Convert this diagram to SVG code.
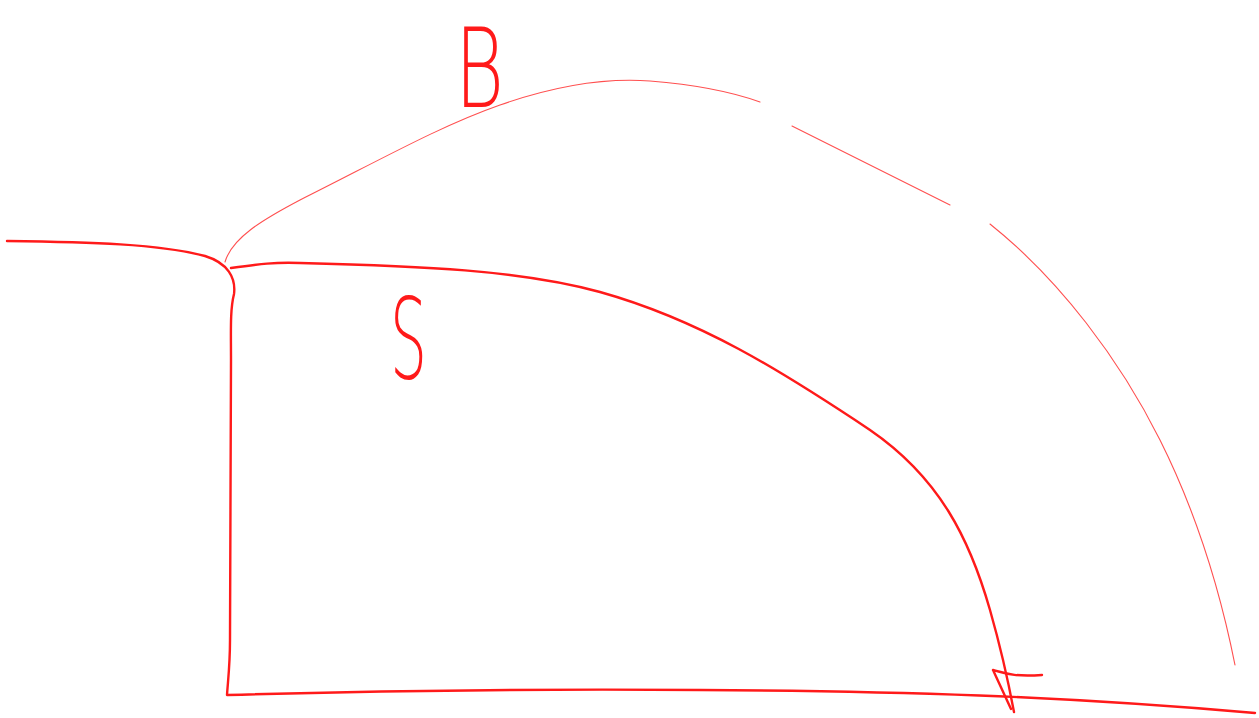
<svg xmlns="http://www.w3.org/2000/svg" width="1259" height="718" viewBox="0 0 1259 718">
<style>
.thick{fill:none;stroke:#ff1a1a;stroke-width:2.4;stroke-linecap:round;stroke-linejoin:round}
.thin{fill:none;stroke:#ff3030;stroke-width:1.1;stroke-linecap:round;opacity:0.85}
.lbl{fill:#ff1a1a;font-family:"DejaVu Sans",sans-serif;font-weight:300}
</style>
<rect width="1259" height="718" fill="#ffffff"/>
<g id="axes">
<path class="thick" d="M7,241 C90,242 160,244 205,256 C228,263 236,278 234,294 C230,310 231,330 231,360 L230,640 C230,665 228,680 227,695 C400,690 560,689 700,690 C900,691 1060,696 1255,713"/>
</g>
<g id="curve-B">
<path class="thin" d="M225,262 C232,238 262,220 300,200 C380,160 440,126 500,105 C560,84 610,78 650,81 C700,85 735,93 760,102"/>
<path class="thin" d="M792,126 L950,205"/>
<path class="thin" d="M990,224 C1060,280 1120,360 1160,440 C1195,510 1220,590 1235,665"/>
</g>
<g id="curve-S">
<path class="thick" d="M231,268 C260,264 275,262 300,263 C420,266 520,270 600,292 C700,320 780,370 870,430 C940,478 970,540 990,610 C1000,645 1008,680 1014,712"/>
<path class="thick" d="M993,670 L1011,709 M993,670 C1005,673 1012,677 1042,675"/>
</g>
<g id="label-B"><text class="lbl" transform="translate(455,107) scale(0.68,1)" font-size="110">B</text></g>
<g id="label-S"><text class="lbl" transform="translate(390,378) scale(0.52,1)" font-size="112">S</text></g>
</svg>
